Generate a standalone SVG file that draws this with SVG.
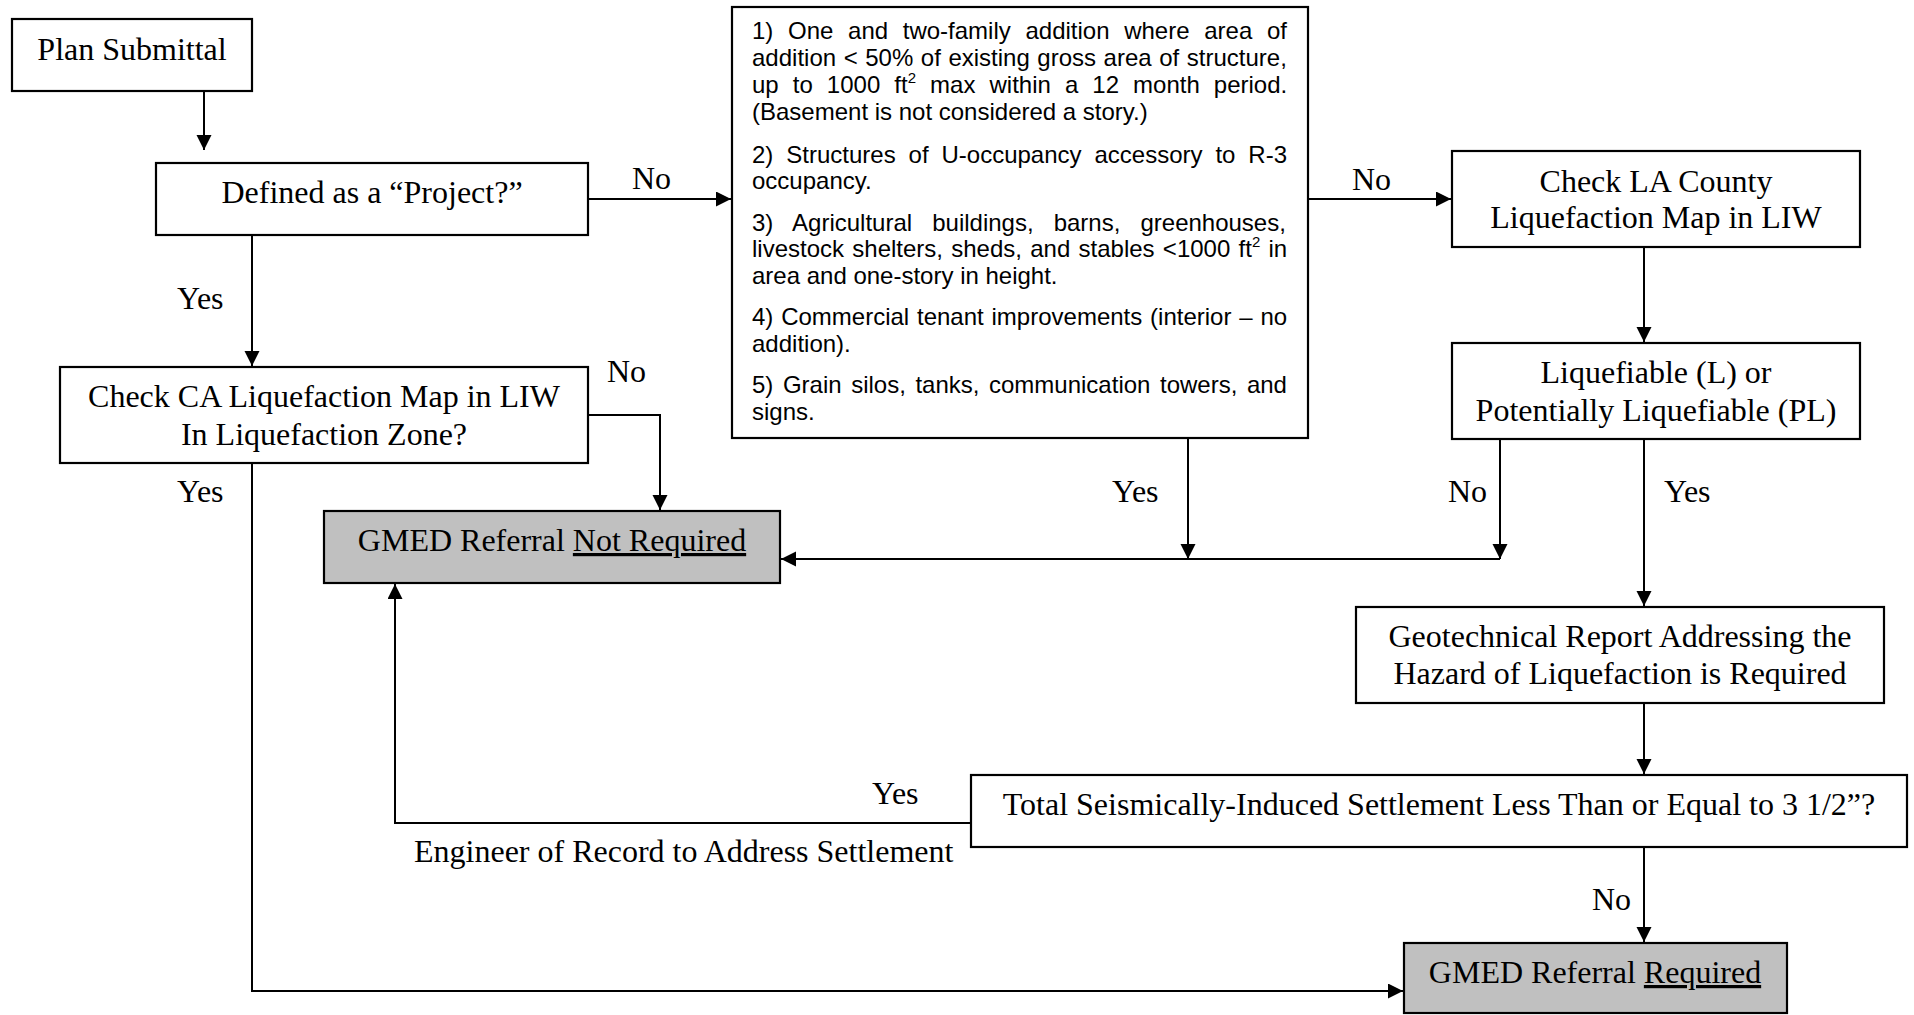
<svg xmlns="http://www.w3.org/2000/svg" width="1914" height="1015" viewBox="0 0 1914 1015">
<style>
.box{fill:#fff;stroke:#000;stroke-width:2.2}
.grey{fill:#c0c0c0;stroke:#000;stroke-width:2.2}
.t{font-family:"Liberation Serif","Times New Roman",serif;font-size:32px;fill:#000}
.c{text-anchor:middle}
.a{font-family:"Liberation Sans",Arial,sans-serif;font-size:24px;fill:#000}
.conn path{fill:none;stroke:#000;stroke-width:2}
</style>
<defs>
<marker id="ah" markerUnits="userSpaceOnUse" markerWidth="16" markerHeight="16" refX="15" refY="7.5" orient="auto">
<path d="M0,0 L15,7.5 L0,15 z" fill="#000"/>
</marker>
</defs>
<rect width="1914" height="1015" fill="#fff"/>

<g class="conn">
<path d="M204,91 V150" marker-end="url(#ah)"/>
<path d="M588,199 H731" marker-end="url(#ah)"/>
<path d="M252,235 V366" marker-end="url(#ah)"/>
<path d="M588,415 H660 V510" marker-end="url(#ah)"/>
<path d="M252,463 V991 H1403" marker-end="url(#ah)"/>
<path d="M1188,438 V559" marker-end="url(#ah)"/>
<path d="M1500,439 V559" marker-end="url(#ah)"/>
<path d="M1500,559 H781" marker-end="url(#ah)"/>
<path d="M1308,199 H1451" marker-end="url(#ah)"/>
<path d="M1644,247 V342" marker-end="url(#ah)"/>
<path d="M1644,439 V606" marker-end="url(#ah)"/>
<path d="M1644,703 V774" marker-end="url(#ah)"/>
<path d="M971,823 H395 V584" marker-end="url(#ah)"/>
<path d="M1644,847 V942" marker-end="url(#ah)"/>
</g>

<g id="labels">
<text class="t" x="632" y="189">No</text>
<text class="t" x="177" y="309">Yes</text>
<text class="t" x="607" y="382">No</text>
<text class="t" x="177" y="502">Yes</text>
<text class="t" x="1112" y="502">Yes</text>
<text class="t" x="1448" y="502">No</text>
<text class="t" x="1664" y="502">Yes</text>
<text class="t" x="1352" y="190">No</text>
<text class="t" x="872" y="804">Yes</text>
<text class="t" x="414" y="862">Engineer of Record to Address Settlement</text>
<text class="t" x="1592" y="910">No</text>
</g>

<g id="plan-submittal">
<rect class="box" x="12" y="19" width="240" height="72"/>
<text class="t c" x="132" y="60">Plan Submittal</text>
</g>

<g id="defined-project">
<rect class="box" x="156" y="163" width="432" height="72"/>
<text class="t c" x="372" y="203">Defined as a “Project?”</text>
</g>

<g id="exemptions">
<rect class="box" x="732" y="7" width="576" height="431"/>
<text class="a" x="752" y="39" word-spacing="8">1) One and two-family addition where area of</text>
<text class="a" x="752" y="66" word-spacing="0.9">addition &lt; 50% of existing gross area of structure,</text>
<text class="a" x="752" y="93" word-spacing="7.4">up to 1000 ft<tspan font-size="15" dy="-10">2</tspan><tspan dy="10"> max within a 12 month period.</tspan></text>
<text class="a" x="752" y="120">(Basement is not considered a story.)</text>
<text class="a" x="752" y="163" word-spacing="6.25">2) Structures of U-occupancy accessory to R-3</text>
<text class="a" x="752" y="189">occupancy.</text>
<text class="a" x="752" y="231" word-spacing="13.4">3) Agricultural buildings, barns, greenhouses,</text>
<text class="a" x="752" y="257" word-spacing="1.6">livestock shelters, sheds, and stables &lt;1000 ft<tspan font-size="15" dy="-10">2</tspan><tspan dy="10"> in</tspan></text>
<text class="a" x="752" y="284">area and one-story in height.</text>
<text class="a" x="752" y="325" word-spacing="1.15">4) Commercial tenant improvements (interior – no</text>
<text class="a" x="752" y="352">addition).</text>
<text class="a" x="752" y="393" word-spacing="2.9">5) Grain silos, tanks, communication towers, and</text>
<text class="a" x="752" y="420">signs.</text>
</g>

<g id="check-ca">
<rect class="box" x="60" y="367" width="528" height="96"/>
<text class="t c" x="324" y="407">Check CA Liquefaction Map in LIW</text>
<text class="t c" x="324" y="445">In Liquefaction Zone?</text>
</g>

<g id="gmed-not-required">
<rect class="grey" x="324" y="511" width="456" height="72"/>
<text class="t c" x="552" y="551">GMED Referral <tspan text-decoration="underline">Not Required</tspan></text>
</g>

<g id="check-la">
<rect class="box" x="1452" y="151" width="408" height="96"/>
<text class="t c" x="1656" y="192">Check LA County</text>
<text class="t c" x="1656" y="228">Liquefaction Map in LIW</text>
</g>

<g id="liquefiable">
<rect class="box" x="1452" y="343" width="408" height="96"/>
<text class="t c" x="1656" y="383">Liquefiable (L) or</text>
<text class="t c" x="1656" y="421">Potentially Liquefiable (PL)</text>
</g>

<g id="geotech">
<rect class="box" x="1356" y="607" width="528" height="96"/>
<text class="t c" x="1620" y="647">Geotechnical Report Addressing the</text>
<text class="t c" x="1620" y="684">Hazard of Liquefaction is Required</text>
</g>

<g id="settlement">
<rect class="box" x="971" y="775" width="936" height="72"/>
<text class="t c" x="1439" y="815">Total Seismically-Induced Settlement Less Than or Equal to 3 1/2”?</text>
</g>

<g id="gmed-required">
<rect class="grey" x="1404" y="943" width="383" height="70"/>
<text class="t c" x="1595" y="983">GMED Referral <tspan text-decoration="underline">Required</tspan></text>
</g>
</svg>
